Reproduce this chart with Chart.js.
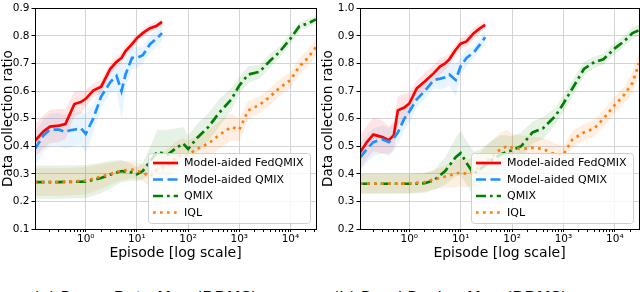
<!DOCTYPE html>
<html>
<head>
<meta charset="utf-8">
<script src="https://cdn.jsdelivr.net/npm/chart.js@4.4.0/dist/chart.umd.min.js"></script>
<style>
  body { margin: 0; background: #fff; width: 640px; height: 292px; overflow: hidden; position: relative; }
  .wrap { position: absolute; top: 0; width: 320px; height: 262px; }
  #wrapA { left: 0; }
  #wrapB { left: 320px; }
  .cap { position: absolute; top: 288px; font: 16px "DejaVu Sans"; color: #000; white-space: nowrap; }
</style>
</head>
<body>
<div class="wrap" id="wrapA"><canvas id="chartA"></canvas></div>
<div class="wrap" id="wrapB"><canvas id="chartB"></canvas></div>
<div class="cap" style="left:33px">(a) Power Data Map (DDMS)</div>
<div class="cap" style="left:333px">(b) Rural Region Map (DDMS)</div>
<script>
// legend labels
const labels = ['Model-aided FedQMIX', 'Model-aided QMIX', 'QMIX', 'IQL'];

// ---- (a) ----
const episodesModelA = [0.1, 0.15, 0.2, 0.3, 0.4, 0.5, 0.6, 0.8, 1, 1.4, 2, 3, 4, 5, 6, 8, 10, 13, 18, 24, 31];
const fedA     = [0.418, 0.454, 0.471, 0.475, 0.48, 0.52, 0.553, 0.56, 0.572, 0.602, 0.616, 0.68, 0.706, 0.72, 0.745, 0.77, 0.792, 0.81, 0.828, 0.836, 0.851];
const fedSpA   = [0.06, 0.06, 0.06, 0.06, 0.055, 0.05, 0.045, 0.04, 0.03, 0.025, 0.025, 0.02, 0.02, 0.02, 0.02, 0.02, 0.015, 0.015, 0.015, 0.015, 0.015];
const maqA     = [0.388, 0.44, 0.46, 0.46, 0.451, 0.458, 0.46, 0.466, 0.445, 0.5, 0.58, 0.632, 0.655, 0.6, 0.66, 0.72, 0.72, 0.73, 0.77, 0.79, 0.81];
const maqSpA   = [0.06, 0.06, 0.06, 0.06, 0.06, 0.06, 0.06, 0.06, 0.07, 0.05, 0.04, 0.04, 0.05, 0.1, 0.05, 0.04, 0.04, 0.03, 0.03, 0.03, 0.03];

const episodesBaseA = [0.1, 0.3, 1, 2, 3, 5, 8, 10, 13, 18, 25, 40, 60, 80, 100, 150, 250, 400, 700, 1000, 1500, 2500, 4000, 6000, 10000, 15000, 22000, 31600];
const qmixA    = [0.27, 0.27, 0.272, 0.285, 0.297, 0.31, 0.305, 0.298, 0.31, 0.345, 0.38, 0.37, 0.395, 0.41, 0.39, 0.43, 0.47, 0.52, 0.57, 0.62, 0.66, 0.67, 0.71, 0.74, 0.79, 0.835, 0.845, 0.86];
const qmixSpA  = [0.06, 0.06, 0.06, 0.055, 0.05, 0.04, 0.03, 0.025, 0.03, 0.05, 0.08, 0.09, 0.07, 0.06, 0.05, 0.05, 0.05, 0.05, 0.04, 0.03, 0.03, 0.025, 0.025, 0.02, 0.02, 0.015, 0.015, 0.015];
const iqlA     = [0.27, 0.27, 0.275, 0.29, 0.3, 0.312, 0.315, 0.31, 0.305, 0.29, 0.315, 0.33, 0.36, 0.37, 0.37, 0.39, 0.41, 0.44, 0.47, 0.46, 0.53, 0.55, 0.58, 0.61, 0.64, 0.69, 0.72, 0.76];
const iqlSpA   = [0.05, 0.05, 0.05, 0.045, 0.04, 0.035, 0.03, 0.03, 0.03, 0.04, 0.05, 0.06, 0.06, 0.06, 0.05, 0.05, 0.05, 0.05, 0.05, 0.04, 0.035, 0.03, 0.03, 0.03, 0.03, 0.03, 0.03, 0.03];

// ---- (b) ----
const episodesModelB = [0.11, 0.15, 0.2, 0.3, 0.4, 0.5, 0.6, 0.8, 1, 1.4, 2, 3, 4, 5, 6, 8, 10, 13, 18, 24, 30];
const fedB     = [0.477, 0.515, 0.542, 0.533, 0.522, 0.54, 0.63, 0.64, 0.655, 0.71, 0.735, 0.765, 0.79, 0.8, 0.815, 0.85, 0.872, 0.88, 0.91, 0.928, 0.94];
const fedSpB   = [0.06, 0.06, 0.06, 0.06, 0.05, 0.05, 0.05, 0.05, 0.04, 0.03, 0.03, 0.03, 0.03, 0.025, 0.02, 0.02, 0.02, 0.02, 0.02, 0.015, 0.015];
const maqB     = [0.459, 0.49, 0.515, 0.525, 0.515, 0.53, 0.55, 0.6, 0.625, 0.67, 0.7, 0.74, 0.745, 0.75, 0.76, 0.74, 0.79, 0.82, 0.84, 0.87, 0.895];
const maqSpB   = [0.05, 0.05, 0.05, 0.05, 0.05, 0.05, 0.04, 0.04, 0.04, 0.03, 0.03, 0.03, 0.04, 0.04, 0.04, 0.06, 0.03, 0.03, 0.02, 0.02, 0.03];

const episodesBaseB = [0.11, 0.3, 1, 2, 3, 5, 8, 10, 13, 18, 25, 40, 60, 80, 100, 150, 250, 400, 700, 1000, 1500, 2500, 4000, 6000, 10000, 15000, 22000, 29500];
const qmixB    = [0.364, 0.364, 0.364, 0.366, 0.376, 0.41, 0.46, 0.475, 0.44, 0.40, 0.42, 0.45, 0.47, 0.48, 0.485, 0.5, 0.55, 0.565, 0.61, 0.655, 0.71, 0.78, 0.805, 0.815, 0.855, 0.88, 0.91, 0.92];
const qmixSpB  = [0.035, 0.035, 0.035, 0.035, 0.035, 0.05, 0.07, 0.08, 0.08, 0.08, 0.07, 0.07, 0.07, 0.06, 0.05, 0.05, 0.04, 0.04, 0.03, 0.03, 0.03, 0.025, 0.02, 0.02, 0.02, 0.02, 0.02, 0.02];
const iqlB     = [0.364, 0.364, 0.365, 0.37, 0.38, 0.39, 0.4, 0.405, 0.4, 0.41, 0.43, 0.46, 0.49, 0.5, 0.495, 0.49, 0.495, 0.49, 0.47, 0.47, 0.525, 0.55, 0.565, 0.6, 0.65, 0.685, 0.73, 0.80];
const iqlSpB   = [0.035, 0.035, 0.035, 0.035, 0.035, 0.04, 0.05, 0.05, 0.05, 0.05, 0.05, 0.06, 0.06, 0.06, 0.05, 0.05, 0.04, 0.04, 0.04, 0.03, 0.03, 0.03, 0.03, 0.03, 0.03, 0.03, 0.04, 0.04];

const FONT = '"DejaVu Sans", sans-serif';
const styles = [
  { color: '#ff0000', band: 'rgba(255,0,0,0.10)',    dash: [] },
  { color: '#1e90ff', band: 'rgba(30,144,255,0.10)', dash: [10, 4.5] },
  { color: '#008000', band: 'rgba(0,128,0,0.10)',    dash: [10, 4, 2.7, 4] },
  { color: '#ff7f0e', band: 'rgba(255,127,14,0.12)', dash: [2.7, 4.3] }
];

function makeSeries(idx, xs, ys, spread) {
  const st = styles[idx];
  const pts = (k) => xs.map((x, i) => ({ x: x, y: ys[i] + k * spread[i] }));
  return {
    bands: [
      { data: pts(-1), borderWidth: 0, pointRadius: 0, fill: false, order: 10 },
      { data: pts(1), borderWidth: 0, pointRadius: 0, fill: '-1', backgroundColor: st.band, order: 10 }
    ],
    line: { label: labels[idx], data: pts(0), borderColor: st.color, borderWidth: 2.7,
            borderDash: st.dash, pointRadius: 0, fill: false, order: 5 - idx }
  };
}

// bands first, then the lines
function buildDatasets(list) {
  const bands = [], lines = [];
  list.forEach(s => { bands.push(...s.bands); lines.push(s.line); });
  return bands.concat(lines);
}

const sup = { '0': '⁰', '1': '¹', '2': '²', '3': '³', '4': '⁴' };
const isMajor = v => Math.abs(Math.log10(v) - Math.round(Math.log10(v))) < 1e-6;

// box around plot area
const frame = {
  id: 'frame',
  afterDraw(chart) {
    const { ctx, chartArea: a } = chart;
    ctx.save();
    ctx.strokeStyle = '#000';
    ctx.lineWidth = 1;
    ctx.strokeRect(Math.round(a.left) + 0.5, Math.round(a.top) + 0.5, Math.round(a.right - a.left), Math.round(a.bottom - a.top));
    ctx.restore();
  }
};

// legend drawn inside, lower right, like matplotlib
const insideLegend = {
  id: 'insideLegend',
  afterDraw(chart) {
    const { ctx, chartArea: a } = chart;
    const items = chart.data.datasets.filter(d => d.label);
    const w = 162, h = 70;
    const x0 = a.right - w - 6, y0 = a.bottom - h - 6;
    ctx.save();
    ctx.beginPath();
    ctx.roundRect(x0 + 0.5, y0 + 0.5, w, h, 3);
    ctx.fillStyle = 'rgba(255,255,255,0.8)';
    ctx.fill();
    ctx.strokeStyle = '#d0d0d0';
    ctx.lineWidth = 1;
    ctx.stroke();
    items.forEach((d, i) => {
      const y = y0 + 10 + i * 16.5;
      ctx.beginPath();
      ctx.setLineDash(d.borderDash);
      ctx.strokeStyle = d.borderColor;
      ctx.lineWidth = d.borderWidth;
      ctx.moveTo(x0 + 5, y);
      ctx.lineTo(x0 + 30, y);
      ctx.stroke();
      ctx.setLineDash([]);
      ctx.fillStyle = '#000';
      ctx.font = '11px ' + FONT;
      ctx.textBaseline = 'middle';
      ctx.fillText(d.label, x0 + 36, y + 0.5);
    });
    ctx.restore();
  }
};

function makeChart(id, datasets, xMin, xMax, yMin, yMax, yWidth, padRight) {
  return new Chart(document.getElementById(id), {
    type: 'line',
    data: { datasets: datasets },
    plugins: [frame, insideLegend],
    options: {
      responsive: true,
      maintainAspectRatio: false,
      animation: false,
      layout: { padding: { top: 0, right: padRight, left: 0, bottom: 0 } },
      plugins: { legend: { display: false }, tooltip: { enabled: false } },
      scales: {
        x: {
          type: 'logarithmic',
          min: xMin,
          max: xMax,
          afterBuildTicks(scale) {
            const t = [];
            for (let e = -1; e <= 4; e++) {
              for (let m = 1; m <= 9; m++) {
                const v = m * Math.pow(10, e);
                if (v >= xMin && v <= xMax) t.push({ value: v });
              }
            }
            scale.ticks = t;
          },
          afterFit(scale) { scale.height = 33; },
          ticks: {
            autoSkip: false, maxRotation: 0, padding: 1,
            color: '#000', font: { family: FONT, size: 10.5 },
            callback: v => isMajor(v) ? '10' + sup[String(Math.round(Math.log10(v)))] : ''
          },
          grid: {
            color: c => (c.tick && isMajor(c.tick.value)) ? '#d4d4d4' : 'rgba(0,0,0,0)',
            tickColor: '#000', tickLength: 3
          },
          border: { color: '#000', width: 1 },
          title: { display: true, text: 'Episode [log scale]', color: '#000',
                   font: { family: FONT, size: 14 }, padding: { top: 0, bottom: 0 } }
        },
        y: {
          min: yMin,
          max: yMax,
          afterFit(scale) { scale.width = yWidth; },
          ticks: { stepSize: 0.1, color: '#000', padding: 2,
                   font: { family: FONT, size: 10.5 }, callback: v => v.toFixed(1) },
          grid: { color: '#d4d4d4', tickColor: '#000', tickLength: 3.5 },
          border: { color: '#000', width: 1 },
          title: { display: true, text: 'Data collection ratio', color: '#000',
                   font: { family: FONT, size: 13.5 }, padding: { top: 0, bottom: 1 } }
        }
      }
    }
  });
}

makeChart('chartA', buildDatasets([
  makeSeries(0, episodesModelA, fedA, fedSpA),
  makeSeries(1, episodesModelA, maqA, maqSpA),
  makeSeries(2, episodesBaseA, qmixA, qmixSpA),
  makeSeries(3, episodesBaseA, iqlA, iqlSpA)
]), 0.102, 31600, 0.1, 0.9, 35, 4);

makeChart('chartB', buildDatasets([
  makeSeries(0, episodesModelB, fedB, fedSpB),
  makeSeries(1, episodesModelB, maqB, maqSpB),
  makeSeries(2, episodesBaseB, qmixB, qmixSpB),
  makeSeries(3, episodesBaseB, iqlB, iqlSpB)
]), 0.11, 29500, 0.2, 1.0, 40, 1);
</script>
</body>
</html>
